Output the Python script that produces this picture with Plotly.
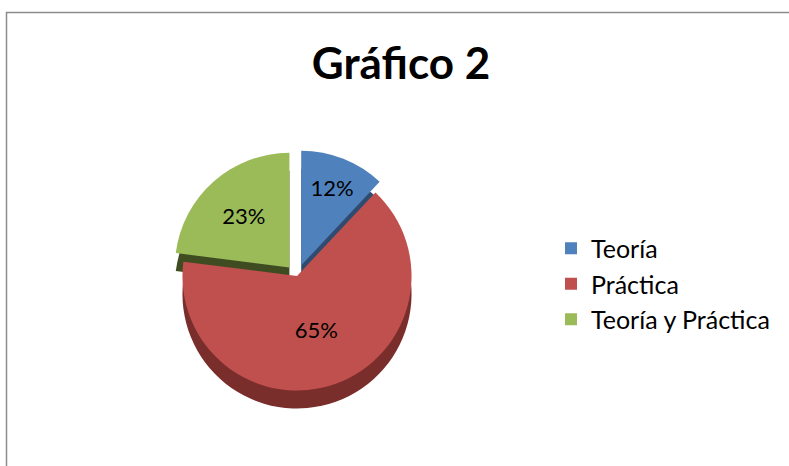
import plotly.graph_objects as go

categories = ["Teoría", "Práctica", "Teoría y Práctica"]
values = [12, 65, 23]
colors = ["#4F81BD", "#C0504D", "#9BBB59"]
side_colors = ["#2F4B70", "#7A2E2C", "#3F4C22"]
pulls = [0.1, 0, 0.1]

W, H = 789, 466
FONT = "Lato"


def px(x):
    return x / W


def py(y):
    return 1 - y / H


CX, CY, HALF, DEPTH = 297, 276, 126, 18

fig = go.Figure()
# darker copy underneath gives the side (depth) of the pie
fig.add_trace(go.Pie(
    labels=categories, values=values, sort=False, direction="clockwise",
    rotation=0, pull=pulls,
    marker=dict(colors=side_colors, line=dict(width=0)),
    textinfo="none", hoverinfo="skip", showlegend=False,
    domain=dict(x=[px(CX - HALF), px(CX + HALF)],
                y=[py(CY + DEPTH + HALF), py(CY + DEPTH - HALF)]),
))
fig.add_trace(go.Pie(
    labels=categories,
    values=values,
    sort=False,
    direction="clockwise",
    rotation=0,
    pull=pulls,
    marker=dict(colors=colors, line=dict(width=0)),
    texttemplate="%{percent:.0%}",
    textposition="inside",
    insidetextorientation="horizontal",
    textfont=dict(family=FONT, size=22, color="black"),
    domain=dict(x=[px(CX - HALF), px(CX + HALF)],
                y=[py(CY + HALF), py(CY - HALF)]),
    hoverinfo="label+percent",
))

fig.update_layout(
    width=W, height=H,
    margin=dict(l=0, r=0, t=0, b=0),
    paper_bgcolor="white",
    plot_bgcolor="white",
    font=dict(family=FONT, color="black"),
    title=dict(text="<b>Gráfico 2</b>", x=px(401), xanchor="center",
               y=py(64), yanchor="middle",
               font=dict(family=FONT, size=44, color="black")),
    showlegend=True,
    legend=dict(x=px(551), xanchor="left", y=py(284), yanchor="middle",
                font=dict(family=FONT, size=25, color="black"),
                bgcolor="rgba(0,0,0,0)", traceorder="normal",
                itemclick=False, itemdoubleclick=False),
    shapes=[dict(type="rect", xref="paper", yref="paper",
                 x0=px(6.5), y0=-0.2, x1=1.2, y1=py(12.5),
                 line=dict(color="#8C8C8C", width=1.5), fillcolor="rgba(0,0,0,0)",
                 layer="below")],
)

fig.write_html("out.html",
               config={"displayModeBar": False},
               post_script="document.body.style.margin='0';document.body.style.overflow='hidden';")
